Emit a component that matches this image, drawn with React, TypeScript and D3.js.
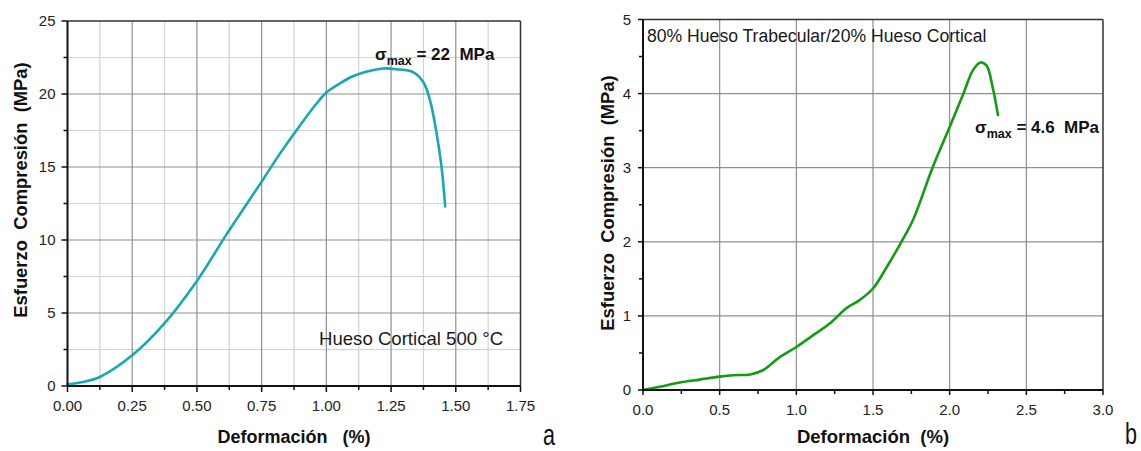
import React from 'react';
import * as d3 from 'd3';

// panel a: Hueso Cortical 500 °C
const strainA = [0, 0.06, 0.125, 0.25, 0.37, 0.5, 0.615, 0.75, 0.82, 0.9, 0.96, 1.0, 1.05, 1.1, 1.17, 1.22, 1.27, 1.335, 1.375, 1.4, 1.426, 1.445, 1.459];
const stressA = [0.12, 0.28, 0.62, 2.1, 4.2, 7.2, 10.4, 14.0, 15.9, 17.9, 19.3, 20.1, 20.7, 21.2, 21.6, 21.75, 21.7, 21.5, 20.8, 19.6, 17.3, 15.0, 12.3];
const xTicksA = [0, 0.25, 0.5, 0.75, 1.0, 1.25, 1.5, 1.75];
const yTicksA = [0, 5, 10, 15, 20, 25];

// panel b: 80% trabecular / 20% cortical
const strainB = [0, 0.11, 0.24, 0.37, 0.5, 0.59, 0.7, 0.785, 0.89, 1.0, 1.11, 1.22, 1.33, 1.41, 1.5, 1.59, 1.68, 1.76, 1.89, 2.0, 2.09, 2.15, 2.2, 2.24, 2.28, 2.315];
const stressB = [0, 0.045, 0.1, 0.14, 0.18, 0.2, 0.21, 0.27, 0.44, 0.58, 0.74, 0.9, 1.11, 1.21, 1.37, 1.66, 1.98, 2.29, 3.01, 3.55, 4.0, 4.31, 4.42, 4.38, 4.09, 3.71];
const xTicksB = [0, 0.5, 1.0, 1.5, 2.0, 2.5, 3.0];
const yTicksB = [0, 1, 2, 3, 4, 5];

const FONT = 'Arial, "Liberation Sans", sans-serif';

type PanelProps = {
  x0: number; x1: number; y0: number; y1: number;
  xMax: number; yMax: number;
  xTicks: number[]; yTicks: number[];
  xMinor: number[]; yMinor: number[];
  xFmt: (v: number) => string;
  xs: number[]; ys: number[];
  color: string;
  minorGrid: boolean;
  majorLen: number; minorLen: number;
};

const Panel = (p: PanelProps) => {
  const x = d3.scaleLinear().domain([0, p.xMax]).range([p.x0, p.x1]);
  const y = d3.scaleLinear().domain([0, p.yMax]).range([p.y1, p.y0]);
  const pts = p.xs.map((v, i) => [v, p.ys[i]] as [number, number]);
  const line = d3.line<[number, number]>()
    .x((d) => x(d[0]))
    .y((d) => y(d[1]))
    .curve(d3.curveCatmullRom.alpha(0.5));
  return (
    <g>
      {p.minorGrid && p.xMinor.map((t) => (
        <line key={'xm' + t} x1={x(t)} x2={x(t)} y1={p.y0} y2={p.y1} stroke="#d2d2d2" strokeWidth={1.2} />
      ))}
      {p.minorGrid && p.yMinor.map((t) => (
        <line key={'ym' + t} x1={p.x0} x2={p.x1} y1={y(t)} y2={y(t)} stroke="#d2d2d2" strokeWidth={1.2} />
      ))}
      {p.xTicks.slice(1, -1).map((t) => (
        <line key={'xg' + t} x1={x(t)} x2={x(t)} y1={p.y0} y2={p.y1} stroke="#8f8f8f" strokeWidth={1.2} />
      ))}
      {p.yTicks.slice(1, -1).map((t) => (
        <line key={'yg' + t} x1={p.x0} x2={p.x1} y1={y(t)} y2={y(t)} stroke="#8f8f8f" strokeWidth={1.2} />
      ))}
      <line x1={p.x0} x2={p.x1} y1={p.y0} y2={p.y0} stroke="#333" strokeWidth={1.5} />
      <line x1={p.x1} x2={p.x1} y1={p.y0} y2={p.y1} stroke="#333" strokeWidth={1.5} />
      <path d={line(pts) || ''} fill="none" stroke={p.color} strokeWidth={2.6} strokeLinejoin="round" strokeLinecap="round" />
      <line x1={p.x0} x2={p.x1} y1={p.y1} y2={p.y1} stroke="#111" strokeWidth={2} />
      <line x1={p.x0} x2={p.x0} y1={p.y0} y2={p.y1} stroke="#111" strokeWidth={2} />
      {p.xTicks.map((t) => (
        <g key={'xt' + t}>
          <line x1={x(t)} x2={x(t)} y1={p.y1} y2={p.y1 + p.majorLen} stroke="#111" strokeWidth={1.5} />
          <text x={x(t)} y={p.y1 + 25} textAnchor="middle" fontSize={15} fill="#222">{p.xFmt(t)}</text>
        </g>
      ))}
      {p.xMinor.map((t) => (
        <line key={'xn' + t} x1={x(t)} x2={x(t)} y1={p.y1} y2={p.y1 + p.minorLen} stroke="#111" strokeWidth={1.5} />
      ))}
      {p.yTicks.map((t) => (
        <g key={'yt' + t}>
          <line x1={p.x0 - p.majorLen} x2={p.x0} y1={y(t)} y2={y(t)} stroke="#111" strokeWidth={1.5} />
          <text x={p.x0 - 12} y={y(t) + 5} textAnchor="end" fontSize={15} fill="#222">{t}</text>
        </g>
      ))}
      {p.yMinor.map((t) => (
        <line key={'yn' + t} x1={p.x0 - p.minorLen} x2={p.x0} y1={y(t)} y2={y(t)} stroke="#111" strokeWidth={1.5} />
      ))}
    </g>
  );
};

const mids = (ticks: number[]) => ticks.slice(0, -1).map((t, i) => (t + ticks[i + 1]) / 2);

const Sigma = ({ x, y, value }: { x: number; y: number; value: string }) => (
  <text x={x} y={y} fontSize={17} fontWeight="bold" fill="#111" style={{ whiteSpace: 'pre' }}>
    σ<tspan fontSize={12.5} dy={5}>max</tspan><tspan dy={-5}>{' = ' + value + '  MPa'}</tspan>
  </text>
);

export default function App() {
  return (
    <svg width={1141} height={451} style={{ position: 'absolute', left: 0, top: 0, background: '#fff' }} fontFamily={FONT}>
      <Panel
        x0={67.5} x1={520.5} y0={21} y1={386}
        xMax={1.75} yMax={25}
        xTicks={xTicksA} yTicks={yTicksA}
        xMinor={mids(xTicksA)} yMinor={mids(yTicksA)}
        xFmt={(v) => v.toFixed(2)}
        xs={strainA} ys={stressA}
        color="#17a8b3" minorGrid={true}
        majorLen={6} minorLen={4}
      />
      <Panel
        x0={643} x1={1103} y0={19.5} y1={390}
        xMax={3} yMax={5}
        xTicks={xTicksB} yTicks={yTicksB}
        xMinor={mids(xTicksB)} yMinor={mids(yTicksB)}
        xFmt={(v) => v.toFixed(1)}
        xs={strainB} ys={stressB}
        color="#139c13" minorGrid={false}
        majorLen={5} minorLen={4}
      />
      <Sigma x={375} y={60} value="22" />
      <Sigma x={975} y={133} value="4.6" />
      <text x={319} y={345} fontSize={18.6} fill="#1a1a1a">Hueso Cortical 500 °C</text>
      <text x={647} y={42} fontSize={17.6} fill="#1a1a1a">80% Hueso Trabecular/20% Hueso Cortical</text>
      <text x={294} y={443} textAnchor="middle" fontSize={18} fontWeight="bold" fill="#111" style={{ whiteSpace: 'pre' }}>Deformación   (%)</text>
      <text x={873} y={443} textAnchor="middle" fontSize={18.5} fontWeight="bold" fill="#111" style={{ whiteSpace: 'pre' }}>Deformación  (%)</text>
      <text transform="translate(27,190) rotate(-90)" textAnchor="middle" fontSize={18.4} fontWeight="bold" fill="#111" style={{ whiteSpace: 'pre' }}>Esfuerzo  Compresión  (MPa)</text>
      <text transform="translate(614,203) rotate(-90)" textAnchor="middle" fontSize={18.4} fontWeight="bold" fill="#111" style={{ whiteSpace: 'pre' }}>Esfuerzo  Compresión  (MPa)</text>
      <text transform="translate(543,445) scale(0.72,1)" fontSize={30} fill="#111">a</text>
      <text transform="translate(1125,444) scale(0.72,1)" fontSize={30} fill="#111">b</text>
    </svg>
  );
}
